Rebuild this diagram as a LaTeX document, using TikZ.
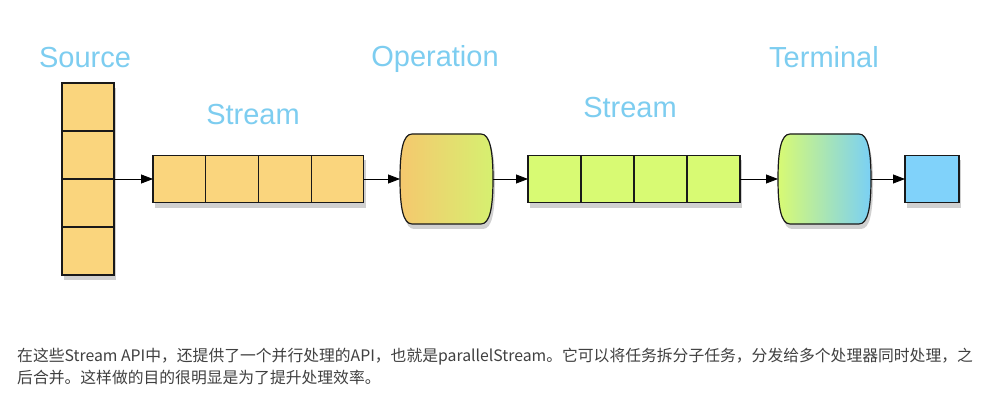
\documentclass[tikz,border=0pt]{standalone}
\usepackage{fontspec}
\setmainfont{Liberation Sans}
\newfontfamily\cjk{Noto Sans CJK SC}
\usetikzlibrary{arrows.meta,positioning,shadows,calc}
\definecolor{labelblue}{RGB}{125,205,240}
\definecolor{cellorange}{RGB}{250,213,125}
\definecolor{celllime}{RGB}{216,250,115}
\definecolor{cellblue}{RGB}{128,210,250}
\definecolor{oporange}{RGB}{245,200,110}
\definecolor{opgreen}{RGB}{214,240,112}
\definecolor{termblue}{RGB}{122,208,245}
\definecolor{textgray}{RGB}{64,64,64}

\begin{document}
\begin{tikzpicture}[x=1pt,y=-1pt,
  cell/.style={draw=black!90,line width=1.2pt,minimum width=52.7pt,minimum height=47.5pt,
    inner sep=0pt,outer sep=0pt,
    drop shadow={opacity=0.3,fill=black!60,shadow xshift=2pt,shadow yshift=-5pt}},
  title/.style={text=labelblue,font=\fontsize{29}{30}\selectfont,anchor=base},
  link/.style={-{Triangle[length=12pt,width=9pt]},line width=0.8pt},
  tube/.style={minimum width=93pt,minimum height=90pt,inner sep=0pt,outer sep=0pt}]
\useasboundingbox[fill=white] (0,0) rectangle (985,414);
% labels on top of each stage
\node[title] (srclbl) at (85,68) {Source};
\node[title] (st1lbl) at (253,125) {Stream};
\node[title] (oplbl) at (435,67) {Operation};
\node[title] (st2lbl) at (630,118) {Stream};
\node[title] (termlbl) at (824,68) {Terminal};
% the source column, one cell under the other
\node[cell,fill=cellorange,minimum width=52pt,minimum height=48pt] (c1) at (88,107) {};
\foreach \i [remember=\i as \j (initially 1)] in {2,3,4}
  \node[cell,fill=cellorange,minimum width=52pt,minimum height=48pt] (c\i) [below=0pt of c\j] {};
% first stream
\node[cell,fill=cellorange] (a1) at (179.4,179) {};
\foreach \i [remember=\i as \j (initially 1)] in {2,3,4}
  \node[cell,fill=cellorange] (a\i) [right=0pt of a\j] {};
% the two tubes: operation and terminal
\node[tube] (op) at (446.5,179) {};
\node[tube] (term) at (824.5,179) {};
\foreach \t/\l/\r in {op/oporange/opgreen,term/celllime/termblue}
  \path[draw=black!90,line width=1.2pt,left color=\l,right color=\r,
    drop shadow={opacity=0.3,fill=black!60,shadow xshift=2pt,shadow yshift=-5pt}]
    ($(\t.north west)+(12,0)$) -- ($(\t.north east)+(-12,0)$)
    .. controls ($(\t.north east)+(-3,0)$) and ($(\t.east)+(0,-28)$) .. (\t.east)
    .. controls ($(\t.east)+(0,28)$) and ($(\t.south east)+(-3,0)$) .. ($(\t.south east)+(-12,0)$)
    -- ($(\t.south west)+(12,0)$)
    .. controls ($(\t.south west)+(3,0)$) and ($(\t.west)+(0,28)$) .. (\t.west)
    .. controls ($(\t.west)+(0,-28)$) and ($(\t.north west)+(3,0)$) .. cycle;
% second stream
\node[cell,fill=celllime,minimum width=53pt] (b1) at (554.5,179) {};
\foreach \i [remember=\i as \j (initially 1)] in {2,3,4}
  \node[cell,fill=celllime,minimum width=53pt] (b\i) [right=0pt of b\j] {};
% result
\node[cell,fill=cellblue,minimum width=54pt] (out) at (932,179) {};
% connectors
\draw[link] (c2.south east) -- (a1.west);
\draw[link] (a4.east) -- (op.west);
\draw[link] (op.east) -- (b1.west);
\draw[link] (b4.east) -- (term.west);
\draw[link] (term.east) -- (out.west);
% caption text below
\node[anchor=base west,inner sep=0pt,text=textgray,font=\cjk\fontsize{15.8}{20}\selectfont] (line1) at (17,361)
  {在这些Stream API中，还提供了一个并行处理的API，也就是parallelStream。它可以将任务拆分子任务，分发给多个处理器同时处理，之};
\node[anchor=base west,inner sep=0pt,text=textgray,font=\cjk\fontsize{15.8}{20}\selectfont] (line2) at (17,383)
  {后合并。这样做的目的很明显是为了提升处理效率。};
\end{tikzpicture}
\end{document}
